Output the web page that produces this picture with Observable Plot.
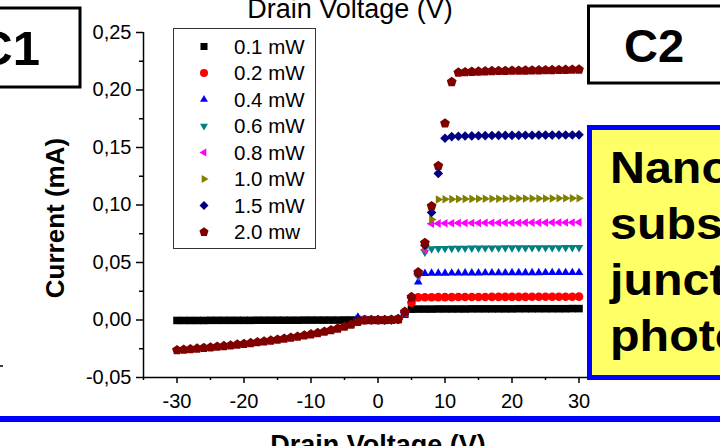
<!DOCTYPE html>
<html><head><meta charset="utf-8">
<script src="https://cdn.jsdelivr.net/npm/d3@7"></script>
<script src="https://cdn.jsdelivr.net/npm/@observablehq/plot@0.6"></script>
<style>
html,body{margin:0;padding:0;background:#fff;overflow:hidden;}
#wrap{position:relative;width:720px;height:446px;overflow:hidden;background:#fff;font-family:Arial,"Liberation Sans",sans-serif;}
#wrap > svg{position:absolute;left:0;top:0;}
</style></head><body><div id="wrap"></div>
<script>
// ---------- data ----------
const voltageFull = [-30,-29,-28,-27,-26,-25,-24,-23,-22,-21,-20,-19,-18,-17,-16,-15,-14,-13,-12,-11,-10,-9,-8,-7,-6,-5,-4,-3,-2,-1,0,1,2,3,4,5,6,7,8,9,10,11,12,13,14,15,16,17,18,19,20,21,22,23,24,25,26,27,28,29,30];
const voltageShort = [-3,-2,-1,0,1,2,3,4,5,6,7,8,9,10,11,12,13,14,15,16,17,18,19,20,21,22,23,24,25,26,27,28,29,30];

const current01 = [-0.0004,-0.0004,-0.0004,-0.0004,-0.0004,-0.0003,-0.0003,-0.0003,-0.0003,-0.0003,-0.0003,-0.0003,-0.0002,-0.0002,-0.0002,-0.0002,-0.0002,-0.0002,-0.0002,-0.0001,-0.0001,-0.0001,-0.0001,-0.0001,-0.0001,0.0000,0.0000,
  0.0000,0.0000,0.0000,0.0000,0.0000,0.0001,0.0004,
  0.0050,
  0.0094,0.0095,0.0095,0.0095,0.0096,0.0096,0.0096,0.0096,0.0096,0.0097,0.0097,0.0097,0.0097,0.0097,0.0097,0.0097,0.0098,0.0098,0.0098,0.0098,0.0098,0.0098,0.0098,0.0098,0.0099,0.0099];
const current02 = [0.0003,0.0001,0.0000,0.0000,0.0000,0.0001,0.0005,0.0060,0.0150,
  0.0197,0.0198,0.0198,0.0199,0.0199,0.0199,0.0200,0.0200,0.0200,0.0200,0.0200,0.0201,0.0201,0.0201,0.0201,0.0201,0.0201,0.0202,0.0202,0.0202,0.0202,0.0202,0.0202,0.0202,0.0203];
const current04 = [0.0025,0.0005,0.0000,0.0000,0.0000,0.0001,0.0006,0.0065,0.0180,0.0330,
  0.0405,0.0406,0.0407,0.0407,0.0408,0.0408,0.0409,0.0409,0.0409,0.0410,0.0410,0.0410,0.0410,0.0411,0.0411,0.0411,0.0411,0.0411,0.0412,0.0412,0.0412,0.0412,0.0412,0.0412];
const current06 = [0.0010,0.0003,0.0000,0.0000,0.0000,0.0001,0.0006,0.0065,0.0190,0.0380,0.0590,
  0.0620,0.0622,0.0623,0.0624,0.0625,0.0625,0.0626,0.0626,0.0627,0.0627,0.0627,0.0628,0.0628,0.0628,0.0628,0.0629,0.0629,0.0629,0.0629,0.0629,0.0630,0.0630,0.0630];
const current08 = [0.0010,0.0003,0.0000,0.0000,0.0000,0.0001,0.0006,0.0065,0.0190,0.0390,0.0610,
  0.0838,0.0840,0.0841,0.0842,0.0843,0.0843,0.0844,0.0844,0.0845,0.0845,0.0845,0.0846,0.0846,0.0846,0.0847,0.0847,0.0847,0.0847,0.0848,0.0848,0.0848,0.0848,0.0849];
const current10 = [0.0010,0.0003,0.0000,0.0000,0.0000,0.0001,0.0006,0.0068,0.0195,0.0400,0.0630,0.0875,
  0.1048,0.1050,0.1051,0.1052,0.1053,0.1053,0.1054,0.1054,0.1055,0.1055,0.1055,0.1056,0.1056,0.1056,0.1057,0.1057,0.1057,0.1057,0.1058,0.1058,0.1058,0.1058];
const current15 = [0.0010,0.0003,0.0000,0.0000,0.0000,0.0001,0.0006,0.0068,0.0198,0.0405,0.0650,0.0935,0.1275,0.1580,
  0.1595,0.1598,0.1600,0.1601,0.1602,0.1603,0.1604,0.1605,0.1605,0.1606,0.1606,0.1607,0.1607,0.1608,0.1608,0.1608,0.1609,0.1609,0.1609,0.1610];
const current20 = [-0.0262,-0.0258,-0.0253,-0.0248,-0.0243,-0.0238,-0.0232,-0.0226,-0.0220,-0.0213,-0.0207,-0.0200,-0.0193,-0.0186,-0.0178,-0.0170,-0.0162,-0.0153,-0.0144,-0.0134,-0.0124,-0.0113,-0.0101,-0.0088,-0.0074,-0.0058,-0.0040,
  -0.0015,-0.0003,0.0000,0.0000,0.0000,0.0002,0.0010,
  0.0072,0.0200,0.0415,0.0670,0.0990,0.1340,0.1710,0.2070,
  0.2152,0.2156,0.2159,0.2161,0.2163,0.2165,0.2166,0.2167,0.2168,0.2169,0.2170,0.2171,0.2172,0.2173,0.2174,0.2175,0.2176,0.2177,0.2178];

const seriesLabels = ["0.1 mW","0.2 mW","0.4 mW","0.6 mW","0.8 mW","1.0 mW","1.5 mW","2.0 mw"];
const seriesColors = ["#000000","#ff0000","#0000ff","#008080","#ff00ff","#808000","#000080","#800000"];
const seriesVolts = [voltageFull, voltageShort, voltageShort, voltageShort, voltageShort, voltageShort, voltageShort, voltageFull];
const seriesCurrents = [current01, current02, current04, current06, current08, current10, current15, current20];

const xTickValues = [-30,-20,-10,0,10,20,30];
const xMinorTicks = [-35,-25,-15,-5,5,15,25,35];
const yTickValues = [-0.05,0,0.05,0.1,0.15,0.2,0.25];
const yTickLabels = ["-0,05","0,00","0,05","0,10","0,15","0,20","0,25"];
const yMinorTicks = [-0.025,0.025,0.075,0.125,0.175,0.225];

// ---------- symbols ----------
function poly(pts){
  return {draw(c, s){
    const R = Math.sqrt(s/Math.PI);
    pts.forEach(([x,y],i)=> i ? c.lineTo(x*R,y*R) : c.moveTo(x*R,y*R));
    c.closePath();
  }};
}
const k = 1.15, h = 0.866;
const symSquare = {draw(c,s){const r=Math.sqrt(s/Math.PI)*0.88; c.rect(-r,-r,2*r,2*r);}};
const symCircle = {draw(c,s){const r=Math.sqrt(s/Math.PI); c.moveTo(r,0); c.arc(0,0,r,0,2*Math.PI);}};
const symTriUp = poly([[0,-k],[k*h,k*0.5],[-k*h,k*0.5]]);
const symTriDown = poly([[0,k],[k*h,-k*0.5],[-k*h,-k*0.5]]);
const symTriLeft = poly([[-k,0],[k*0.5,-k*h],[k*0.5,k*h]]);
const symTriRight = poly([[k,0],[-k*0.5,-k*h],[-k*0.5,k*h]]);
const symDiamond = poly([[0,-1.12],[1.12,0],[0,1.12],[-1.12,0]]);
const pent = [0,1,2,3,4].map(i=>{const a=-Math.PI/2+i*2*Math.PI/5; return [1.2*Math.cos(a),1.2*Math.sin(a)];});
const symPentagon = poly(pent);
const seriesSymbols = [symSquare,symCircle,symTriUp,symTriDown,symTriLeft,symTriRight,symDiamond,symPentagon];

// ---------- plot ----------
const dotMarks = seriesLabels.map((lab,j)=>{
  const data = seriesVolts[j].map((v,i)=>({v, c: seriesCurrents[j][i]}));
  return Plot.dot(data, {x:"v", y:"c", r:4.3, symbol: seriesSymbols[j], fill: seriesColors[j], stroke:"none"});
});

const chart = Plot.plot({
  width: 720, height: 446,
  marginLeft: 143, marginRight: 108, marginTop: 32, marginBottom: 69,
  style: {fontFamily: 'Arial, "Liberation Sans", sans-serif', fontSize: "20px", color: "black", background: "transparent"},
  x: {domain: [-35, 35], label: null},
  y: {domain: [-0.05, 0.25], label: null},
  marks: [
    Plot.axisX({ticks: xTickValues, tickSize: 6, tickPadding: 10, tickFormat: d => String(d), strokeWidth: 1.5, label: null}),
    Plot.axisX({ticks: xMinorTicks, tickSize: 3, tickFormat: () => "", strokeWidth: 1.5, label: null}),
    Plot.axisY({ticks: yTickValues, tickSize: 7, tickPadding: 5, tickFormat: d => yTickLabels[yTickValues.indexOf(d)], strokeWidth: 1.5, label: null}),
    Plot.axisY({ticks: yMinorTicks, tickSize: 4, tickFormat: () => "", strokeWidth: 1.5, label: null}),
    Plot.ruleX([-35], {stroke: "black", strokeWidth: 1.5}),
    Plot.ruleY([-0.05], {stroke: "black", strokeWidth: 1.5}),
    ...dotMarks
  ]
});
const wrap = document.getElementById("wrap");
wrap.appendChild(chart);

// ---------- overlay (slide decorations, labels, legend) ----------
const ov = d3.select(wrap).append("svg").attr("width",720).attr("height",446)
  .style("font-family",'Arial, "Liberation Sans", sans-serif');

ov.append("text").attr("x",350).attr("y",18).attr("text-anchor","middle")
  .attr("font-size",27).text("Drain Voltage (V)");

ov.append("rect").attr("x",-5).attr("y",8).attr("width",85).attr("height",79)
  .attr("fill","#fff").attr("stroke","#000").attr("stroke-width",3);
ov.append("text").attr("x",40).attr("y",65).attr("text-anchor","end")
  .attr("font-size",49).attr("font-weight","bold").text("C1");

ov.append("rect").attr("x",588.5).attr("y",6).attr("width",200).attr("height",77)
  .attr("fill","#fff").attr("stroke","#000").attr("stroke-width",3);
ov.append("text").attr("x",624).attr("y",62)
  .attr("font-size",47).attr("font-weight","bold").text("C2");

ov.append("rect").attr("x",589.5).attr("y",127.5).attr("width",200).attr("height",250)
  .attr("fill","#ffff66").attr("stroke","#0000ff").attr("stroke-width",5);
const boxLines = ["Nano","subs","junct","photo"];
boxLines.forEach((t,i)=>{
  ov.append("text").attr("transform",`translate(610,${183+i*56}) scale(1.1,1)`)
    .attr("font-size",44).attr("font-weight","bold").text(t);
});

ov.append("rect").attr("x",0).attr("y",416).attr("width",720).attr("height",6).attr("fill","#0000ff");
ov.append("text").attr("x",378).attr("y",454).attr("text-anchor","middle")
  .attr("font-size",27).attr("font-weight","bold").text("Drain Voltage (V)");

ov.append("text").attr("transform","translate(63.5,218) rotate(-90)").attr("text-anchor","middle")
  .attr("font-size",26).attr("font-weight","bold").text("Current (mA)");

ov.append("line").attr("x1",0).attr("x2",3).attr("y1",366).attr("y2",366).attr("stroke","#000").attr("stroke-width",1.5);

// legend
const lg = ov.append("g");
lg.append("rect").attr("x",173.5).attr("y",28.5).attr("width",142).attr("height",220)
  .attr("fill","#fff").attr("stroke","#333").attr("stroke-width",1);
seriesLabels.forEach((lab,j)=>{
  const cy = 46.5 + j*26.5;
  lg.append("path").attr("transform",`translate(204,${cy})`)
    .attr("d", d3.symbol().type(seriesSymbols[j]).size(Math.PI*16)())
    .attr("fill", seriesColors[j]);
  lg.append("text").attr("x",234).attr("y",cy).attr("dy","0.35em")
    .attr("font-size",20.5).text(lab);
});
</script>
</body></html>
